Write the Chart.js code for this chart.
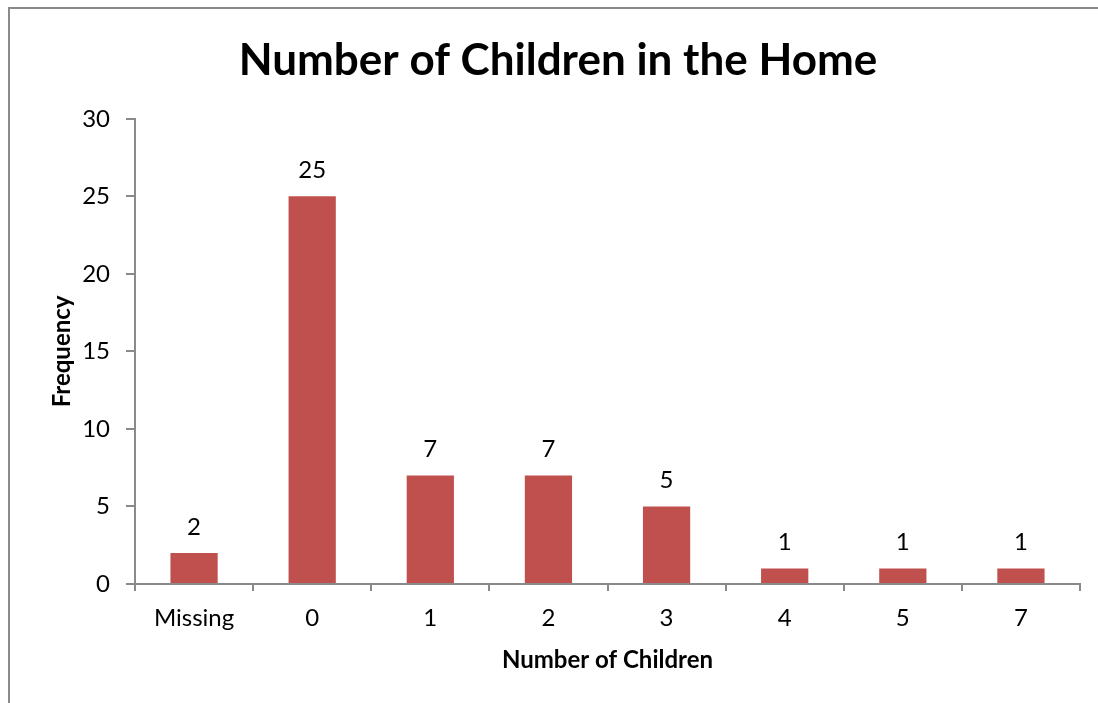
<!DOCTYPE html>
<html>
<head>
<meta charset="utf-8">
<script src="https://cdn.jsdelivr.net/npm/chart.js@4"></script>
<style>
  html, body { margin: 0; padding: 0; background: #fff; }
  #wrap {
    position: absolute; left: 0; top: 0; width: 1098px; height: 703px;
  }
  #frame {
    position: absolute; left: 8px; top: 7px; right: 0; bottom: 0;
    border-left: 2px solid #8a8a8a; border-top: 2px solid #8a8a8a;
  }
  canvas { position: absolute; left: 0; top: 0; }
</style>
</head>
<body>
<div id="wrap">
  <div id="frame"></div>
  <canvas id="chart" width="1098" height="703"></canvas>
</div>
<script>
// categories and counts
const categories = ["Missing", "0", "1", "2", "3", "4", "5", "7"];
const frequency = [2, 25, 7, 7, 5, 1, 1, 1];
const yTicks = [0, 5, 10, 15, 20, 25, 30];

const FONT = "Lato, 'Open Sans', sans-serif";
const AXIS_GRAY = "#8a8a8a";

// value labels above each bar
const barLabels = {
  id: "barLabels",
  afterDatasetsDraw(chart) {
    const ctx = chart.ctx;
    const meta = chart.getDatasetMeta(0);
    ctx.save();
    ctx.font = "24px " + FONT;
    ctx.fillStyle = "#000";
    ctx.textAlign = "center";
    ctx.textBaseline = "middle";
    meta.data.forEach((bar, i) => {
      ctx.fillText(String(frequency[i]), bar.x, bar.y - 26);
    });
    ctx.restore();
  }
};

new Chart(document.getElementById("chart"), {
  type: "bar",
  data: {
    labels: categories,
    datasets: [{
      data: frequency,
      backgroundColor: "#C0504D",
      borderWidth: 0,
      barPercentage: 0.4,
      categoryPercentage: 1
    }]
  },
  options: {
    responsive: false,
    animation: false,
    layout: { padding: { left: 36, right: 18, top: 0, bottom: 20 } },
    plugins: {
      legend: { display: false },
      tooltip: { enabled: false },
      title: {
        display: true,
        text: "Number of Children in the Home",
        color: "#000",
        font: { family: FONT, size: 44, weight: "bold" },
        padding: { top: 34, bottom: 32 }
      }
    },
    scales: {
      x: {
        grid: {
          display: true, offset: true, drawOnChartArea: false,
          drawTicks: true, tickLength: 7, color: AXIS_GRAY, lineWidth: 2
        },
        border: { display: true, color: AXIS_GRAY, width: 2 },
        ticks: { color: "#000", font: { family: FONT, size: 24 }, padding: 13 },
        title: {
          display: true, text: "Number of Children", color: "#000",
          font: { family: FONT, size: 24, weight: "bold" },
          padding: { top: 0, bottom: 8 }
        },
        afterFit(scale) { scale.height = 99; }
      },
      y: {
        min: 0, max: 30,
        afterBuildTicks(scale) { scale.ticks = yTicks.map(v => ({ value: v })); },
        grid: {
          display: true, drawOnChartArea: false, drawTicks: true,
          tickLength: 9, color: AXIS_GRAY, lineWidth: 2
        },
        border: { display: true, color: AXIS_GRAY, width: 2 },
        ticks: { color: "#000", font: { family: FONT, size: 24 }, padding: 16 },
        title: {
          display: true, text: "Frequency", color: "#000",
          font: { family: FONT, size: 24, weight: "bold" },
          padding: { top: 12, bottom: 0 }
        },
        afterFit(scale) { scale.width = 99; }
      }
    }
  },
  plugins: [barLabels]
});
</script>
</body>
</html>
